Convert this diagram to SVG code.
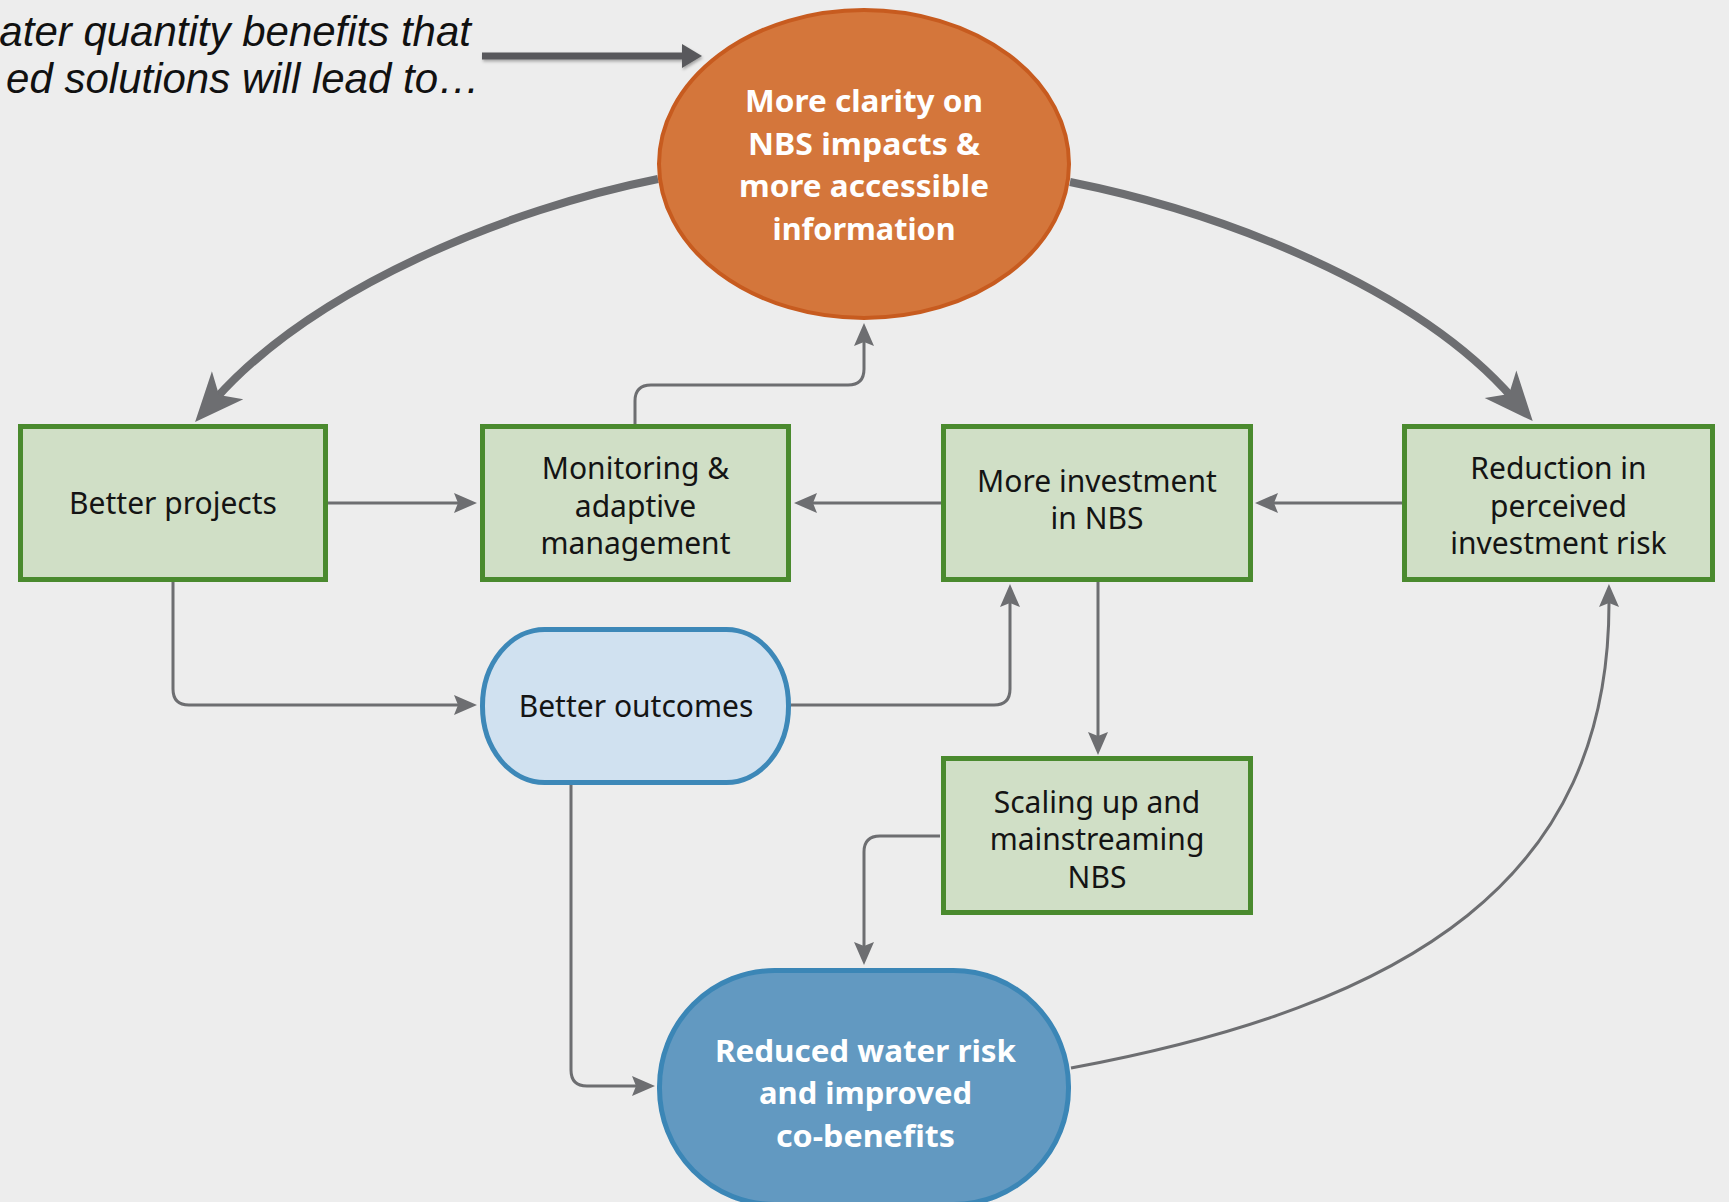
<svg xmlns="http://www.w3.org/2000/svg" width="1729" height="1202" viewBox="0 0 1729 1202">
<style>
.box{fill:#d0dfc6;stroke:#4a8a2e;stroke-width:5}
.t{font-family:"Noto Sans","Liberation Sans",sans-serif;font-size:30px;fill:#141414;text-anchor:middle}
.tb{font-family:"Noto Sans","Liberation Sans",sans-serif;font-size:31px;font-weight:700;fill:#ffffff;text-anchor:middle}
.cap{font-family:"Liberation Sans",Arial,sans-serif;font-style:italic;font-size:42px;fill:#111111;text-anchor:end}
.ln{fill:none;stroke:#6d6e71;stroke-width:3;marker-end:url(#sm)}
.big{fill:none;stroke:#6d6e71;stroke-width:8;marker-end:url(#bg)}
</style>
<defs>
<marker id="sm" markerUnits="userSpaceOnUse" viewBox="-26 -12 28 24" markerWidth="28" markerHeight="24" refX="-17" refY="0" orient="auto">
<path d="M0,0 L-23,-10 L-19,0 L-23,10 Z" fill="#6d6e71"/>
</marker>
<marker id="bg" markerUnits="userSpaceOnUse" viewBox="-52 -25 54 50" markerWidth="54" markerHeight="50" refX="-30" refY="0" orient="auto">
<path d="M0,0 L-49,-21 L-36,0 L-49,21 Z" fill="#6d6e71"/>
</marker>
<marker id="tp" markerUnits="userSpaceOnUse" viewBox="-22 -13 24 26" markerWidth="24" markerHeight="26" refX="-17" refY="0" orient="auto">
<path d="M0,0 L-20,-12 L-20,12 Z" fill="#58595b"/>
</marker>
<filter id="sh" filterUnits="userSpaceOnUse" x="470" y="30" width="250" height="50">
<feDropShadow dx="1" dy="2" stdDeviation="1.5" flood-color="#000" flood-opacity="0.3"/>
</filter>
</defs>
<rect x="0" y="0" width="1729" height="1202" fill="#ededed"/>

<g id="caption">
<text class="cap" x="471" y="46">ater quantity benefits that</text>
<text class="cap" x="480" y="93">ed solutions will lead to…</text>
</g>

<g id="connectors">
<path d="M482,56 H685" fill="none" stroke="#58595b" stroke-width="7" marker-end="url(#tp)" filter="url(#sh)"/>
<path class="big" d="M658,179 C508,209 315,287 215,399.5"/>
<path class="big" d="M1070,182 C1220,212 1415,286 1513,398.5"/>
<path class="ln" d="M635,424 V401 Q635,385 651,385 H848 Q864,385 864,369 V340"/>
<path class="ln" d="M328,503 H460"/>
<path class="ln" d="M941,503 H811"/>
<path class="ln" d="M1402,503 H1272"/>
<path class="ln" d="M173,582 V689 Q173,705 189,705 H460"/>
<path class="ln" d="M791,705 H994 Q1010,705 1010,689 V601"/>
<path class="ln" d="M1098,582 V738"/>
<path class="ln" d="M940,836 H880 Q864,836 864,852 V948"/>
<path class="ln" d="M571,785 V1070 Q571,1086 587,1086 H638"/>
<path class="ln" d="M1071,1068 C1410,1005 1610,880 1609,601"/>
</g>

<g id="node-clarity">
<ellipse cx="864" cy="164" rx="205" ry="154" fill="#d4763b" stroke="#c75b1f" stroke-width="4"/>
<text class="tb" x="864" y="112" font-size="30" textLength="238" lengthAdjust="spacingAndGlyphs">More clarity on</text>
<text class="tb" x="864" y="155" font-size="30" textLength="232" lengthAdjust="spacingAndGlyphs">NBS impacts &amp;</text>
<text class="tb" x="864" y="197" font-size="30" textLength="250" lengthAdjust="spacingAndGlyphs">more accessible</text>
<text class="tb" x="864" y="240" font-size="30" textLength="183" lengthAdjust="spacingAndGlyphs">information</text>
</g>

<g id="node-better-projects">
<rect class="box" x="20.5" y="426.5" width="305" height="153"/>
<text class="t" x="173" y="514">Better projects</text>
</g>

<g id="node-monitoring">
<rect class="box" x="482.5" y="426.5" width="306" height="153"/>
<text class="t" x="635.5" y="479">Monitoring &amp;</text>
<text class="t" x="635.5" y="516.5">adaptive</text>
<text class="t" x="635.5" y="554">management</text>
</g>

<g id="node-investment">
<rect class="box" x="943.5" y="426.5" width="307" height="153"/>
<text class="t" x="1097" y="491.5">More investment</text>
<text class="t" x="1097" y="529">in NBS</text>
</g>

<g id="node-reduction">
<rect class="box" x="1404.5" y="426.5" width="308" height="153"/>
<text class="t" x="1558.5" y="479">Reduction in</text>
<text class="t" x="1558.5" y="516.5">perceived</text>
<text class="t" x="1558.5" y="554">investment risk</text>
</g>

<g id="node-scaling">
<rect class="box" x="943.5" y="758.5" width="307" height="154"/>
<text class="t" x="1097" y="812.5">Scaling up and</text>
<text class="t" x="1097" y="850">mainstreaming</text>
<text class="t" x="1097" y="887.5">NBS</text>
</g>

<g id="node-better-outcomes">
<rect x="482.5" y="629.5" width="306" height="153" rx="62" ry="76" fill="#d0e1f0" stroke="#3d88b8" stroke-width="5"/>
<text class="t" x="636" y="717">Better outcomes</text>
</g>

<g id="node-reduced-risk">
<rect x="659.5" y="970.5" width="409" height="234" rx="115" ry="116" fill="#6299c1" stroke="#3b86b6" stroke-width="5"/>
<text class="tb" x="865.5" y="1062" font-size="33" textLength="301" lengthAdjust="spacingAndGlyphs">Reduced water risk</text>
<text class="tb" x="865.5" y="1104" font-size="33" textLength="213" lengthAdjust="spacingAndGlyphs">and improved</text>
<text class="tb" x="865.5" y="1147" font-size="33" textLength="179" lengthAdjust="spacingAndGlyphs">co-benefits</text>
</g>
</svg>
